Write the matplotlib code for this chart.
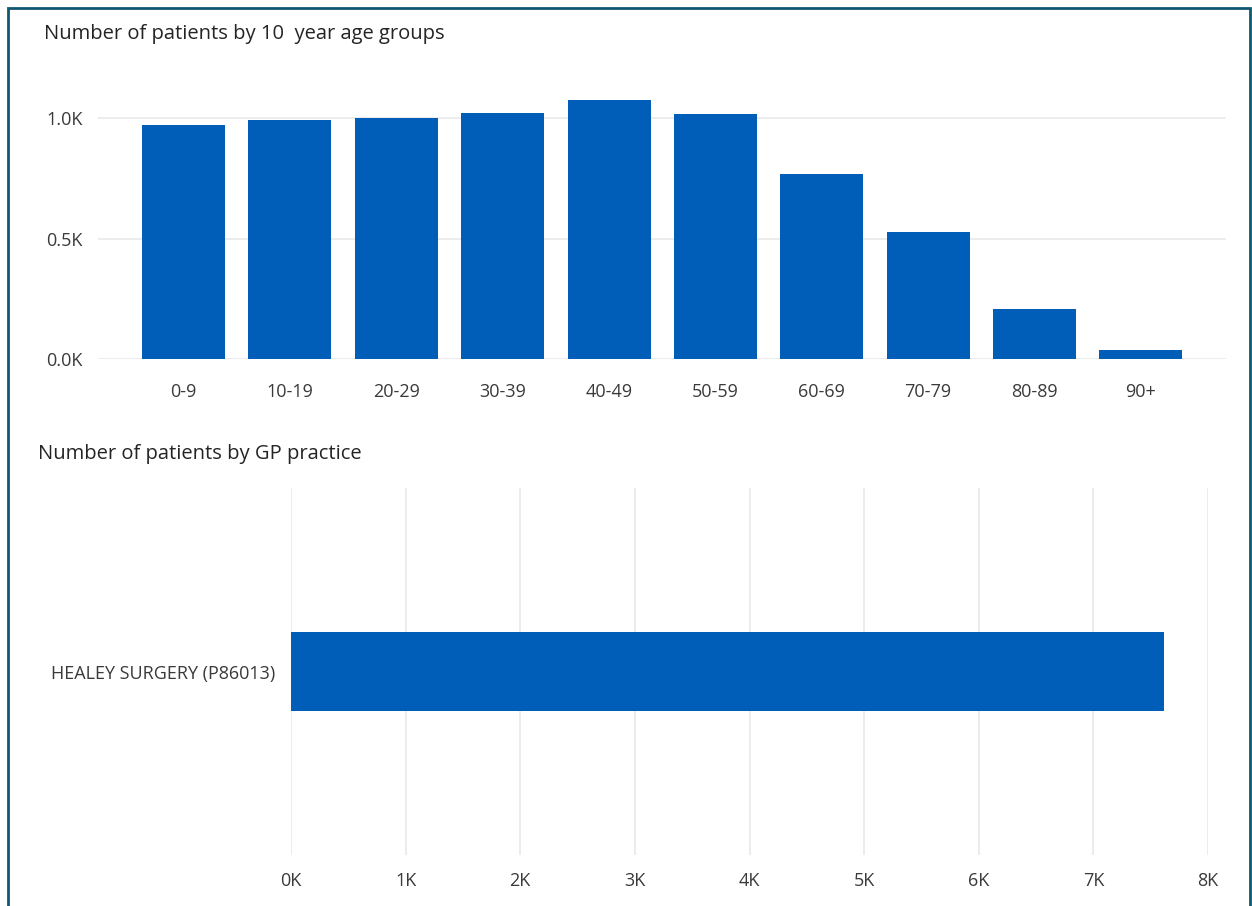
import matplotlib.pyplot as plt
from matplotlib.patches import Rectangle
from matplotlib.ticker import FuncFormatter

plt.rcParams['font.family'] = ['Open Sans', 'DejaVu Sans']

age_groups = ['0-9', '10-19', '20-29', '30-39', '40-49',
              '50-59', '60-69', '70-79', '80-89', '90+']
age_counts = [971, 992, 1000, 1021, 1075, 1017, 768, 527, 207, 37]

practices = ['HEALEY SURGERY (P86013)']
practice_counts = [7615]

bar_col = '#005EB8'
grid_col = '#E9E9E9'
text_col = '#252423'
tick_col = '#3a3a3a'

W, H = 1252, 906
fig = plt.figure(figsize=(W / 100, H / 100), dpi=100)

# panel frame
fig.patches.append(Rectangle((8 / W, -0.05), (1250 - 8) / W, (H - 8) / H + 0.05,
                             transform=fig.transFigure, fill=False,
                             edgecolor='#0F5873', linewidth=2))


def px_axes(x0, y0, x1, y1):
    return fig.add_axes([x0 / W, 1 - y1 / H, (x1 - x0) / W, (y1 - y0) / H])


def clean(ax):
    for s in ax.spines.values():
        s.set_visible(False)
    ax.tick_params(length=0, colors=tick_col, labelsize=13)


# age groups
ax1 = px_axes(98, 94, 1226, 359)
ax1.bar(range(len(age_groups)), age_counts, width=0.78, color=bar_col, zorder=3)
ax1.set_xlim(-0.804, 9.8)
ax1.set_ylim(0, 1100)
ax1.set_yticks([0, 500, 1000])
ax1.yaxis.set_major_formatter(FuncFormatter(lambda v, p: f'{v / 1000:.1f}K'))
ax1.set_xticks(range(len(age_groups)))
ax1.set_xticklabels(age_groups)
ax1.grid(axis='y', color=grid_col, linewidth=1.2, zorder=0)
clean(ax1)
ax1.tick_params(axis='y', pad=11)
ax1.tick_params(axis='x', pad=17)
fig.text(44 / W, 1 - 34 / H, 'Number of patients by 10  year age groups',
         fontsize=14.5, color=text_col, va='center', ha='left')

# GP practice
ax2 = px_axes(291, 488, 1208, 855)
ax2.barh(range(len(practices)), practice_counts, height=0.213, color=bar_col, zorder=3)
ax2.set_xlim(0, 8000)
ax2.set_ylim(-0.5, 0.5)
ax2.set_xticks(range(0, 8001, 1000))
ax2.xaxis.set_major_formatter(FuncFormatter(lambda v, p: f'{v / 1000:.0f}K'))
ax2.set_yticks(range(len(practices)))
ax2.set_yticklabels(practices)
ax2.grid(axis='x', color=grid_col, linewidth=1.2, zorder=0)
clean(ax2)
ax2.tick_params(axis='y', pad=11.5)
ax2.tick_params(axis='x', pad=12)
fig.text(38 / W, 1 - 454 / H, 'Number of patients by GP practice',
         fontsize=14.5, color=text_col, va='center', ha='left')

fig.savefig('out.png', dpi=100)
